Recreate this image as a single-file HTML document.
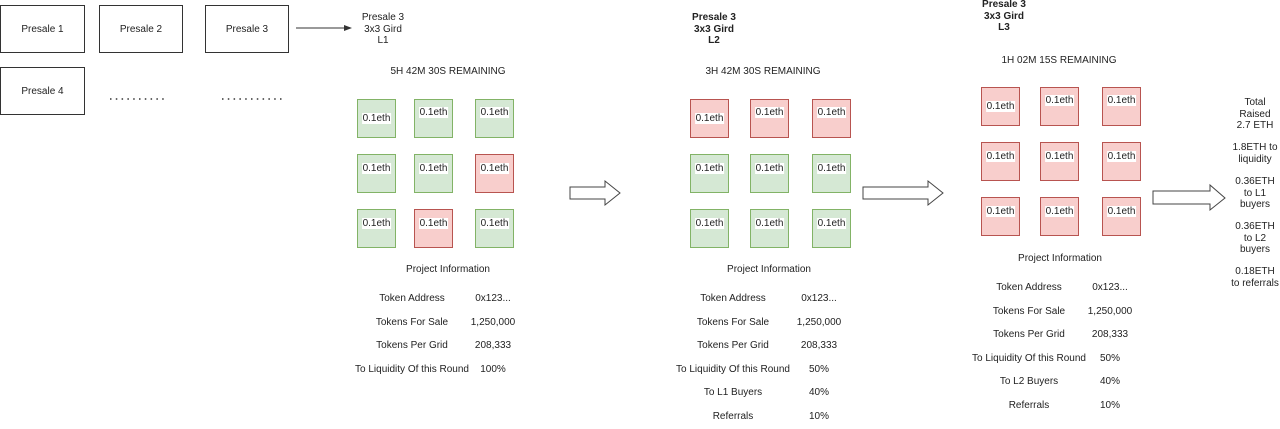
<!DOCTYPE html>
<html><head><meta charset="utf-8"><style>
body{margin:0;width:1280px;height:429px;background:#fff;position:relative;overflow:hidden;font-family:"Liberation Sans",Arial,sans-serif;font-size:10px;color:#222}
.a{position:absolute;white-space:nowrap}
.c{transform:translateX(-50%);text-align:center;line-height:11.5px}
.box{position:absolute;border:1px solid #333;box-sizing:border-box;display:flex;align-items:center;justify-content:center;font-size:10px}
.cell{position:absolute;width:39px;height:39px;box-sizing:border-box;border:1px solid}
.g{background:#d5e8d4;border-color:#82b366}
.r{background:#f8cecc;border-color:#b85450}
.cell span{position:absolute;left:50%;transform:translateX(-50%);background:#fff;padding:0 1px;line-height:11px}
</style></head><body>
<div class="box" style="left:0;top:5px;width:85px;height:48px">Presale 1</div>
<div class="box" style="left:99px;top:5px;width:84px;height:48px">Presale 2</div>
<div class="box" style="left:205px;top:5px;width:84px;height:48px">Presale 3</div>
<div class="box" style="left:0;top:67px;width:85px;height:48px">Presale 4</div>
<svg class="a" style="left:0;top:0" width="1280" height="429">
<line x1="110" y1="99" x2="168" y2="99" stroke="#333" stroke-dasharray="1.5,4.3" stroke-width="1.5"/>
<line x1="222" y1="99" x2="282" y2="99" stroke="#333" stroke-dasharray="1.5,4.3" stroke-width="1.5"/>
<line x1="296" y1="28" x2="346" y2="28" stroke="#333"/><polygon points="344,25 352,28 344,31" fill="#333"/>
<polygon points="570,187 605,187 605,181 620,193 605,205 605,199 570,199" fill="#fff" stroke="#444"/>
<polygon points="863,187 928,187 928,181 943,193 928,205 928,199 863,199" fill="#fff" stroke="#444"/>
<polygon points="1153,191 1210,191 1210,185 1225,198 1210,210 1210,204 1153,204" fill="#fff" stroke="#444"/>
</svg>
<div id="root"></div>
<script>
const panels=[
 {title:["Presale 3","3x3 Gird","L1"],bold:false,tx:383,ty:12,rem:"5H 42M 30S REMAINING",rx:448,ry:66,cols:[357,414,475],rows:[99,154,209],
  colors:["g","g","g","g","g","r","g","r","g"],info:"Project Information",ix:448,iy:264,lx:412,vx:493,iy0:293,
  labels:["Token Address","Tokens For Sale","Tokens Per Grid","To Liquidity Of this Round"],values:["0x123...","1,250,000","208,333","100%"]},
 {title:["Presale 3","3x3 Gird","L2"],bold:true,tx:714,ty:12,rem:"3H 42M 30S REMAINING",rx:763,ry:66,cols:[690,750,812],rows:[99,154,209],
  colors:["r","r","r","g","g","g","g","g","g"],info:"Project Information",ix:769,iy:264,lx:733,vx:819,iy0:293,
  labels:["Token Address","Tokens For Sale","Tokens Per Grid","To Liquidity Of this Round","To L1 Buyers","Referrals"],values:["0x123...","1,250,000","208,333","50%","40%","10%"]},
 {title:["Presale 3","3x3 Gird","L3"],bold:true,tx:1004,ty:-1,rem:"1H 02M 15S REMAINING",rx:1059,ry:55,cols:[981,1040,1102],rows:[87,142,197],
  colors:["r","r","r","r","r","r","r","r","r"],info:"Project Information",ix:1060,iy:253,lx:1029,vx:1110,iy0:282,
  labels:["Token Address","Tokens For Sale","Tokens Per Grid","To Liquidity Of this Round","To L2 Buyers","Referrals"],values:["0x123...","1,250,000","208,333","50%","40%","10%"]}
];
const root=document.getElementById('root');
function txt(t,x,y,name,extra){const d=document.createElement('div');d.className='a c';d.style.left=x+'px';d.style.top=y+'px';d.innerHTML=t;if(extra)d.style.cssText+=extra;


root.appendChild(d);return d;}
panels.forEach((p,pi)=>{
 txt(p.title.join('<br>'),p.tx,p.ty,'panel-'+(pi+1)+'-title',p.bold?'font-weight:bold':'');
 txt(p.rem,p.rx,p.ry,'panel-'+(pi+1)+'-countdown');
 p.colors.forEach((c,i)=>{const r=Math.floor(i/3),k=i%3;const d=document.createElement('div');d.className='cell '+c;
  d.style.left=p.cols[k]+'px';d.style.top=p.rows[r]+'px';
  const s=document.createElement('span');s.textContent='0.1eth';s.style.top=(i==0?13:(r==0?7:8))+'px';d.appendChild(s);
  
  
  root.appendChild(d);});
 txt(p.info,p.ix,p.iy,'project-information-heading');
 p.labels.forEach((l,i)=>{const y=p.iy0+i*23.6;
  txt(l,p.lx,y,'info-label');
  txt(p.values[i],p.vx,y,'info-value');});
});
txt("Total<br>Raised<br>2.7 ETH",1255,97,'total-raised');
txt("1.8ETH to<br>liquidity",1255,142,'liquidity-share');
txt("0.36ETH<br>to L1<br>buyers",1255,176,'l1-buyers-share');
txt("0.36ETH<br>to L2<br>buyers",1255,221,'l2-buyers-share');
txt("0.18ETH<br>to referrals",1255,266,'referrals-share');
</script>
</body></html>
